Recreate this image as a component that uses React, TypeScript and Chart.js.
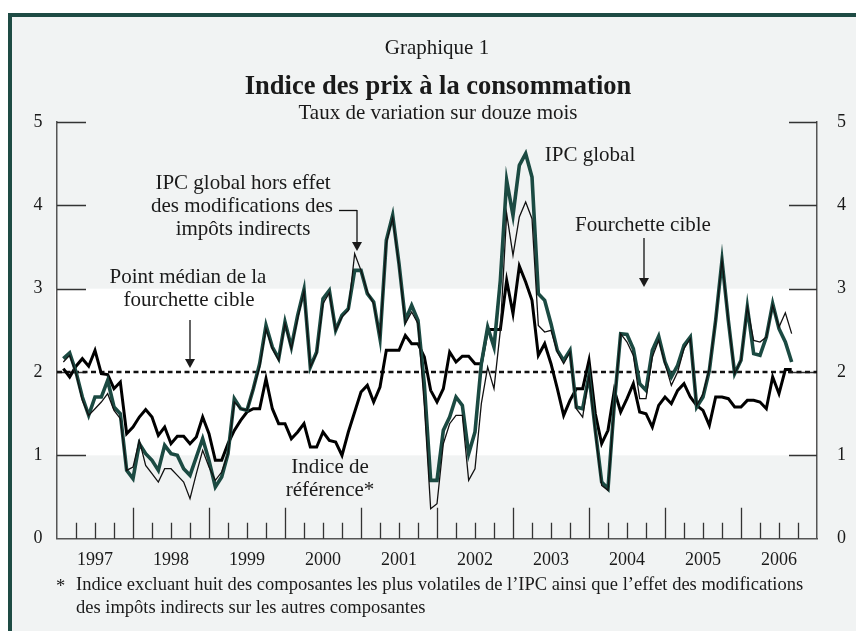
import React, { useEffect, useRef } from 'react';
import { Chart, registerables } from 'chart.js';

Chart.register(...registerables);

// Monthly data, January 1997 to August 2006 (12-month % change)
const yearLabels = ['1997', '1998', '1999', '2000', '2001', '2002', '2003', '2004', '2005', '2006'];

const ipcGlobal = [
  2.16, 2.23, 2.0, 1.7, 1.48, 1.7, 1.7, 1.9, 1.58, 1.5, 0.82, 0.72,
  1.14, 1.02, 0.94, 0.82, 1.12, 1.02, 1.0, 0.84, 0.76, 0.98, 1.2, 0.94,
  0.62, 0.74, 1.02, 1.68, 1.56, 1.54, 1.8, 2.1, 2.56, 2.3, 2.16, 2.6,
  2.3, 2.68, 2.99, 2.06, 2.24, 2.88, 2.98, 2.5, 2.68, 2.76, 3.22, 3.22,
  2.94, 2.84, 2.4, 3.58, 3.88, 3.3, 2.62, 2.8, 2.62, 1.85, 0.7, 0.7,
  1.3, 1.46, 1.7, 1.6, 1.02, 1.28, 2.1, 2.54, 2.3, 3.1, 4.3, 3.88,
  4.48, 4.62, 4.34, 2.94, 2.86, 2.58, 2.26, 2.14, 2.26, 1.58, 1.56, 1.96,
  1.3, 0.68, 0.6, 1.62, 2.46, 2.45, 2.28, 1.86, 1.78, 2.26, 2.43, 2.12,
  1.94, 2.08, 2.32, 2.42, 1.58, 1.7, 2.02, 2.62, 3.34, 2.62, 1.98, 2.14,
  2.78, 2.22, 2.2, 2.42, 2.82, 2.52, 2.36, 2.12,
];

const ipcHorsEffet = [
  2.12, 2.2, 1.98, 1.66, 1.48, 1.56, 1.64, 1.74, 1.54, 1.44, 0.82, 0.86,
  1.18, 0.88, 0.78, 0.68, 0.84, 0.84, 0.76, 0.68, 0.48, 0.78, 1.06, 0.86,
  0.7, 0.8, 1.02, 1.64, 1.56, 1.54, 1.8, 2.06, 2.52, 2.28, 2.14, 2.58,
  2.28, 2.64, 2.97, 2.06, 2.22, 2.82, 2.95, 2.5, 2.66, 2.74, 3.42, 3.22,
  2.96, 2.82, 2.42, 3.55, 3.85, 3.28, 2.58, 2.72, 2.58, 1.6, 0.36, 0.42,
  1.14, 1.38, 1.48, 1.48, 0.7, 0.84, 1.62, 2.06, 1.8, 2.5, 3.9, 3.4,
  3.86, 4.04, 3.84, 2.56, 2.48, 2.5, 2.24, 2.1, 2.24, 1.56, 1.46, 1.96,
  1.28, 0.64, 0.58, 1.62, 2.46, 2.36, 2.2, 1.68, 1.68, 2.18, 2.38, 2.1,
  1.84, 2.0, 2.28, 2.4, 1.6, 1.74, 2.04, 2.62, 3.34, 2.62, 1.98, 2.14,
  2.78, 2.38, 2.36, 2.42, 2.8, 2.54, 2.71, 2.46,
];

const indiceReference = [
  2.04, 1.94, 2.07, 2.16, 2.07, 2.26, 1.98, 1.97, 1.8, 1.88, 1.26, 1.34,
  1.46, 1.55, 1.46, 1.24, 1.34, 1.14, 1.23, 1.23, 1.14, 1.22, 1.46, 1.26,
  0.94, 0.94, 1.14, 1.3, 1.42, 1.52, 1.56, 1.56, 1.92, 1.56, 1.38, 1.38,
  1.2, 1.28, 1.38, 1.1, 1.1, 1.28, 1.18, 1.16, 1.0, 1.28, 1.52, 1.76,
  1.84, 1.64, 1.82, 2.26, 2.26, 2.26, 2.44, 2.34, 2.34, 2.18, 1.78, 1.64,
  1.8, 2.24, 2.12, 2.19, 2.19, 2.1, 2.1, 2.51, 2.51, 2.51, 3.1, 2.7,
  3.27, 3.08, 2.86, 2.2, 2.34, 2.1, 1.8, 1.48, 1.66, 1.8, 1.8, 2.14,
  1.5, 1.14, 1.3, 1.78, 1.52, 1.68, 1.86, 1.52, 1.5, 1.34, 1.6, 1.7,
  1.62, 1.78, 1.86, 1.7, 1.6, 1.54, 1.36, 1.7, 1.7, 1.68, 1.58, 1.58,
  1.66, 1.66, 1.64, 1.56, 1.94, 1.74, 2.03, 2.03,
];

const targetLow = 1;
const targetMid = 2;
const targetHigh = 3;
const yTickValues = [0, 1, 2, 3, 4, 5];

const FONT = '"Liberation Serif", "Times New Roman", serif';
const TEXT = '#1a1a1a';
const GREEN = '#1b4a42';
const FRAME = '#1e4b44';
const PAGE = '#f1f3f3';

const toPoints = (arr: number[]) => arr.map((v, i) => ({ x: i + 1, y: v }));

const bgPlugin = {
  id: 'bgPlugin',
  beforeDraw(chart: any) {
    const { ctx, width, height, chartArea, scales } = chart;
    ctx.save();
    ctx.fillStyle = '#ffffff';
    ctx.fillRect(0, 0, width, height);
    ctx.fillStyle = PAGE;
    ctx.fillRect(8, 13, width - 8, height - 13);
    ctx.fillStyle = FRAME;
    ctx.fillRect(8, 13, width - 8, 4);
    ctx.fillRect(8, 13, 4, height - 13);
    const yTop = scales.y.getPixelForValue(targetHigh);
    const yBot = scales.y.getPixelForValue(targetLow);
    ctx.fillStyle = '#ffffff';
    ctx.fillRect(chartArea.left - 2, yTop, chartArea.right - chartArea.left + 2, yBot - yTop);
    ctx.restore();
  },
  beforeDatasetsDraw(chart: any) {
    const { ctx, chartArea, scales } = chart;
    const x = scales.x;
    const y = scales.y;
    ctx.save();
    ctx.strokeStyle = '#333333';
    ctx.lineWidth = 1.3;
    ctx.beginPath();
    for (let v = 3; v < 120; v += 3) {
      const px = Math.round(x.getPixelForValue(v)) + 0.5;
      const len = v % 12 === 0 ? 31 : 16;
      ctx.moveTo(px, chartArea.bottom);
      ctx.lineTo(px, chartArea.bottom - len);
    }
    for (const v of yTickValues) {
      if (v === 0) continue;
      const py = Math.round(y.getPixelForValue(v)) + 0.5;
      ctx.moveTo(chartArea.left, py);
      ctx.lineTo(chartArea.left + 29, py);
      ctx.moveTo(chartArea.right - 28, py);
      ctx.lineTo(chartArea.right, py);
    }
    ctx.stroke();
    ctx.restore();
  },
};

function arrowDown(ctx: CanvasRenderingContext2D, x: number, y1: number, tip: number) {
  ctx.beginPath();
  ctx.moveTo(x, y1);
  ctx.lineTo(x, tip - 8);
  ctx.stroke();
  ctx.beginPath();
  ctx.moveTo(x - 5, tip - 9);
  ctx.lineTo(x + 5, tip - 9);
  ctx.lineTo(x, tip);
  ctx.closePath();
  ctx.fill();
}

const textPlugin = {
  id: 'textPlugin',
  afterDraw(chart: any) {
    const { ctx } = chart;
    ctx.save();
    ctx.fillStyle = TEXT;
    ctx.strokeStyle = '#111111';
    ctx.lineWidth = 1.3;
    ctx.textAlign = 'center';
    ctx.textBaseline = 'middle';

    ctx.font = `21px ${FONT}`;
    ctx.fillText('Graphique 1', 437, 48);
    ctx.font = `bold 26.5px ${FONT}`;
    ctx.fillText('Indice des prix à la consommation', 438, 87);
    ctx.font = `21px ${FONT}`;
    ctx.fillText('Taux de variation sur douze mois', 438, 113);

    ctx.font = `21px ${FONT}`;
    ctx.fillText('IPC global hors effet', 243, 183);
    ctx.fillText('des modifications des', 242, 206);
    ctx.fillText('impôts indirects', 243, 229);
    ctx.beginPath();
    ctx.moveTo(339, 210.5);
    ctx.lineTo(357, 210.5);
    ctx.stroke();
    arrowDown(ctx, 357, 210, 251);

    ctx.fillText('IPC global', 590, 155);

    ctx.fillText('Fourchette cible', 643, 225);
    arrowDown(ctx, 644, 238, 287);

    ctx.fillText('Point médian de la', 188, 277);
    ctx.fillText('fourchette cible', 189, 300);
    arrowDown(ctx, 190, 320, 368);

    ctx.fillText('Indice de', 330, 467);
    ctx.fillText('référence*', 330, 490);

    ctx.font = `18.5px ${FONT}`;
    ctx.textAlign = 'left';
    ctx.fillText('*', 56, 587);
    ctx.fillText("Indice excluant huit des composantes les plus volatiles de l\u2019IPC ainsi que l\u2019effet des modifications", 76, 585);
    ctx.fillText('des impôts indirects sur les autres composantes', 76, 608);
    ctx.restore();
  },
};

export default function App() {
  const ref = useRef<HTMLCanvasElement | null>(null);

  useEffect(() => {
    if (!ref.current) return;
    const axisBorder = { display: true, color: '#555555', width: 1.5 };
    const noGrid = { display: true, drawOnChartArea: false, drawTicks: false };
    const tickFont = { family: FONT, size: 18 };
    const chart = new Chart(ref.current, {
      type: 'line',
      data: {
        datasets: [
          {
            label: 'IPC global hors effet des modifications des impôts indirects',
            data: toPoints(ipcHorsEffet),
            borderColor: '#111111',
            borderWidth: 1.3,
            pointRadius: 0,
            tension: 0,
            yAxisID: 'y',
          },
          {
            label: 'IPC global',
            data: toPoints(ipcGlobal),
            borderColor: GREEN,
            borderWidth: 3.6,
            pointRadius: 0,
            tension: 0,
            yAxisID: 'y',
          },
          {
            label: 'Indice de référence',
            data: toPoints(indiceReference),
            borderColor: '#000000',
            borderWidth: 3,
            pointRadius: 0,
            tension: 0,
            yAxisID: 'y',
          },
          {
            label: 'Point médian de la fourchette cible',
            data: [{ x: 0, y: targetMid }, { x: 120, y: targetMid }],
            borderColor: '#111111',
            borderWidth: 2.5,
            borderDash: [5, 3.5],
            pointRadius: 0,
            tension: 0,
            yAxisID: 'y',
          },
        ],
      },
      options: {
        responsive: false,
        animation: false,
        events: [],
        layout: { padding: { top: 122, left: 0, right: 0, bottom: 0 } },
        plugins: {
          legend: { display: false },
          tooltip: { enabled: false },
          title: { display: false },
        },
        scales: {
          x: {
            type: 'linear',
            min: 0,
            max: 120,
            afterBuildTicks: (s: any) => {
              s.ticks = yearLabels.map((_, k) => ({ value: 12 * k + 6 }));
            },
            ticks: {
              autoSkip: false,
              maxRotation: 0,
              font: tickFont,
              color: TEXT,
              padding: 10.5,
              callback: (v: any) => yearLabels[Math.round((Number(v) - 6) / 12)],
            },
            grid: noGrid,
            border: axisBorder,
            afterFit: (s: any) => {
              s.height = 92.3;
              s.paddingLeft = 0;
              s.paddingRight = 0;
            },
          },
          y: {
            type: 'linear',
            position: 'left',
            min: 0,
            max: 5,
            afterBuildTicks: (s: any) => {
              s.ticks = yTickValues.map((v) => ({ value: v }));
            },
            ticks: { font: tickFont, color: TEXT, padding: 14.5 },
            grid: noGrid,
            border: axisBorder,
            afterFit: (s: any) => {
              s.width = 57;
              s.paddingTop = 0;
              s.paddingBottom = 0;
            },
          },
          y2: {
            type: 'linear',
            position: 'right',
            min: 0,
            max: 5,
            afterBuildTicks: (s: any) => {
              s.ticks = yTickValues.map((v) => ({ value: v }));
            },
            ticks: { font: tickFont, color: TEXT, padding: 20 },
            grid: noGrid,
            border: axisBorder,
            afterFit: (s: any) => {
              s.width = 39;
              s.paddingTop = 0;
              s.paddingBottom = 0;
            },
          },
        },
      },
      plugins: [bgPlugin, textPlugin],
    });
    return () => chart.destroy();
  }, []);

  return (
    <div style={{ position: 'absolute', left: 0, top: 0, width: 856, height: 631 }}>
      <canvas ref={ref} width={856} height={631} style={{ display: 'block', width: 856, height: 631 }} />
    </div>
  );
}
